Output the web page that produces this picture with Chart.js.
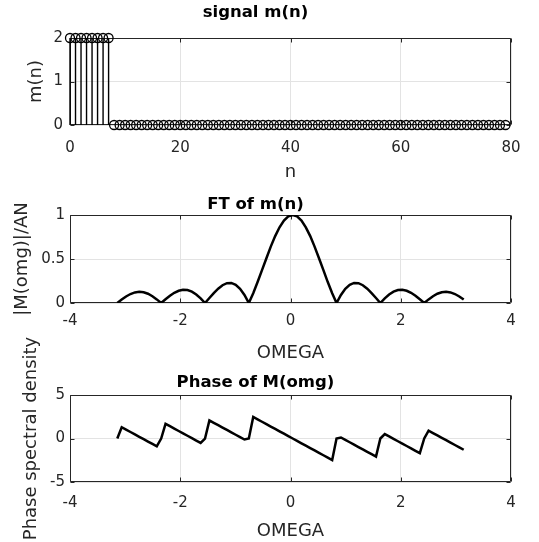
<!DOCTYPE html>
<html>
<head>
<meta charset="utf-8">
<script src="https://cdn.jsdelivr.net/npm/chart.js@4.4.1/dist/chart.umd.min.js"></script>
<style>
  body { margin: 0; background: #fff; }
  #wrap { position: relative; width: 539px; height: 542px; overflow: hidden; background: #fff; }
  canvas { position: absolute; left: 0; }
</style>
</head>
<body>
<div id="wrap">
  <canvas id="c1" width="539" height="190" style="top:0px"></canvas>
  <canvas id="c2" width="539" height="188" style="top:180px"></canvas>
  <canvas id="c3" width="539" height="217" style="top:325px"></canvas>
</div>
<script>
// signal m(n), n = 0..79
const nIdx = [0,1,2,3,4,5,6,7,8,9,10,11,12,13,14,15,16,17,18,19,
  20,21,22,23,24,25,26,27,28,29,30,31,32,33,34,35,36,37,38,39,
  40,41,42,43,44,45,46,47,48,49,50,51,52,53,54,55,56,57,58,59,
  60,61,62,63,64,65,66,67,68,69,70,71,72,73,74,75,76,77,78,79];
const mSig = [2,2,2,2,2,2,2,2,0,0,0,0,0,0,0,0,0,0,0,0,
  0,0,0,0,0,0,0,0,0,0,0,0,0,0,0,0,0,0,0,0,
  0,0,0,0,0,0,0,0,0,0,0,0,0,0,0,0,0,0,0,0,
  0,0,0,0,0,0,0,0,0,0,0,0,0,0,0,0,0,0,0,0];

// frequency axis
const omega = [-3.142,-3.062,-2.983,-2.903,-2.823,-2.744,-2.664,-2.585,-2.505,-2.426,
  -2.346,-2.267,-2.187,-2.108,-2.028,-1.949,-1.869,-1.789,-1.710,-1.630,
  -1.551,-1.471,-1.392,-1.312,-1.233,-1.153,-1.074,-0.994,-0.915,-0.835,
  -0.756,-0.676,-0.597,-0.517,-0.437,-0.358,-0.278,-0.199,-0.119,-0.040,
  0.040,0.119,0.199,0.278,0.358,0.437,0.517,0.597,0.676,0.756,
  0.835,0.915,0.994,1.074,1.153,1.233,1.312,1.392,1.471,1.551,
  1.630,1.710,1.789,1.869,1.949,2.028,2.108,2.187,2.267,2.346,
  2.426,2.505,2.585,2.664,2.744,2.823,2.903,2.983,3.062,3.142];

// |M(omg)|/AN
const magFT = [0,0.039,0.074,0.102,0.120,0.127,0.122,0.105,0.077,0.041,
  0,0.043,0.083,0.116,0.139,0.150,0.147,0.129,0.097,0.053,
  0,0.057,0.113,0.163,0.202,0.225,0.228,0.207,0.162,0.092,
  0,0.112,0.238,0.373,0.509,0.641,0.760,0.860,0.937,0.984,
  1,0.984,0.937,0.860,0.760,0.641,0.509,0.373,0.238,0.112,
  0,0.092,0.162,0.207,0.228,0.225,0.202,0.163,0.113,0.057,
  0,0.053,0.097,0.129,0.147,0.150,0.139,0.116,0.083,0.043,
  0,0.041,0.077,0.105,0.122,0.127,0.120,0.102,0.074,0.039];

// phase of M(omg)
const phaseFT = [0,1.296,1.021,0.746,0.471,0.196,-0.079,-0.353,-0.628,-0.903,
  0,1.689,1.414,1.139,0.864,0.589,0.314,0.039,-0.236,-0.511,
  0,2.081,1.806,1.532,1.257,0.982,0.707,0.432,0.157,-0.118,
  0,2.474,2.199,1.924,1.649,1.374,1.100,0.825,0.550,0.275,
  0,-0.275,-0.550,-0.825,-1.100,-1.374,-1.649,-1.924,-2.199,-2.474,
  0,0.118,-0.157,-0.432,-0.707,-0.982,-1.257,-1.532,-1.806,-2.081,
  0,0.511,0.236,-0.039,-0.314,-0.589,-0.864,-1.139,-1.414,-1.689,
  0,0.903,0.628,0.353,0.079,-0.196,-0.471,-0.746,-1.021,-1.296];

const xTicksN = [0, 20, 40, 60, 80];
const xTicksW = [-4, -2, 0, 2, 4];

const FONT = 'DejaVu Sans';
const AX = '#262626';
const GRID = '#e3e3e3';

// box around axes + inward tick marks (matlab look)
const boxPlugin = {
  id: 'box',
  beforeDatasetsDraw(chart) {
    const {ctx, chartArea: a, scales} = chart;
    const L = Math.round(a.left) + 0.5, R = Math.round(a.right) - 0.5;
    const T = Math.round(a.top) + 0.5, B = Math.round(a.bottom) - 0.5;
    ctx.save();
    ctx.strokeStyle = AX;
    ctx.lineWidth = 1;
    ctx.beginPath();
    scales.x.ticks.forEach(t => {
      const px = Math.round(scales.x.getPixelForValue(t.value)) + 0.5;
      ctx.moveTo(px, B); ctx.lineTo(px, B - 4);
      ctx.moveTo(px, T); ctx.lineTo(px, T + 4);
    });
    scales.y.ticks.forEach(t => {
      const py = Math.round(scales.y.getPixelForValue(t.value)) + 0.5;
      ctx.moveTo(L, py); ctx.lineTo(L + 4, py);
      ctx.moveTo(R, py); ctx.lineTo(R - 4, py);
    });
    ctx.rect(L, T, R - L, B - T);
    ctx.stroke();
    ctx.restore();
  }
};

// stems from baseline to each marker
const stemPlugin = {
  id: 'stems',
  beforeDatasetsDraw(chart) {
    const {ctx} = chart;
    const y0 = chart.scales.y.getPixelForValue(0);
    ctx.save();
    ctx.strokeStyle = '#000';
    ctx.lineWidth = 1.4;
    ctx.beginPath();
    chart.getDatasetMeta(0).data.forEach(pt => {
      ctx.moveTo(pt.x, y0);
      ctx.lineTo(pt.x, pt.y);
    });
    ctx.stroke();
    ctx.restore();
  }
};

function makeChart(id, o) {
  return new Chart(document.getElementById(id), {
    type: 'scatter',
    data: { datasets: [o.dataset] },
    options: {
      responsive: false,
      animation: false,
      layout: { padding: { left: 0, right: 28, top: 0, bottom: 0 } },
      plugins: {
        legend: { display: false },
        tooltip: { enabled: false },
        title: {
          display: true,
          text: o.title,
          color: '#000',
          font: { family: FONT, size: 16.5, weight: 'bold' },
          padding: o.titlePad
        }
      },
      scales: {
        x: {
          type: 'linear',
          min: o.xmin, max: o.xmax,
          afterBuildTicks: s => { s.ticks = o.xticks.map(v => ({ value: v })); },
          afterFit: s => { s.height = o.xh; s.paddingLeft = 0; s.paddingRight = 0; },
          grid: { color: GRID, drawTicks: false },
          border: { display: false },
          ticks: {
            color: AX, padding: o.xtickPad, maxRotation: 0,
            font: { family: FONT, size: 15 },
            callback: v => String(v)
          },
          title: {
            display: true, text: o.xlabel, color: AX,
            font: { family: FONT, size: 18 },
            padding: { top: 0, bottom: o.xlabPad }
          }
        },
        y: {
          type: 'linear',
          min: o.ymin, max: o.ymax,
          afterBuildTicks: s => { s.ticks = o.yticks.map(v => ({ value: v })); },
          afterFit: s => { s.width = 70; s.paddingTop = 0; s.paddingBottom = 0; },
          grid: { color: GRID, drawTicks: false },
          border: { display: false },
          ticks: {
            color: AX, padding: o.ytickPad,
            font: { family: FONT, size: 15 },
            callback: v => String(v)
          },
          title: {
            display: true, text: o.ylabel, color: AX,
            font: { family: FONT, size: 18 },
            padding: { top: o.ylabPad, bottom: 0 }
          }
        }
      }
    },
    plugins: o.plugins
  });
}

makeChart('c1', {
  title: 'signal m(n)',
  titlePad: { top: 3, bottom: 15.2 },
  dataset: {
    data: nIdx.map((n, i) => ({ x: n, y: mSig[i] })),
    showLine: false,
    pointStyle: 'circle',
    pointRadius: 4.5,
    pointBorderWidth: 1.3,
    pointBorderColor: '#000',
    pointBackgroundColor: 'rgba(0,0,0,0)',
    clip: false
  },
  xmin: 0, xmax: 80, xticks: xTicksN, xh: 65, xtickPad: 14, xlabel: 'n', xlabPad: 7,
  ymin: 0, ymax: 2, yticks: [0, 1, 2], ytickPad: 7, ylabel: 'm(n)', ylabPad: 26,
  plugins: [boxPlugin, stemPlugin]
});

makeChart('c2', {
  title: 'FT of m(n)',
  titlePad: { top: 15.1, bottom: 0.1 },
  dataset: {
    data: omega.map((w, i) => ({ x: w, y: magFT[i] })),
    showLine: true,
    borderColor: '#000',
    borderWidth: 2.5,
    pointRadius: 0
  },
  xmin: -4, xmax: 4, xticks: xTicksW, xh: 65, xtickPad: 9, xlabel: 'OMEGA', xlabPad: 4,
  ymin: 0, ymax: 1, yticks: [0, 0.5, 1], ytickPad: 5, ylabel: '|M(omg)|/AN', ylabPad: 12,
  plugins: [boxPlugin]
});

makeChart('c3', {
  title: 'Phase of M(omg)',
  titlePad: { top: 47.6, bottom: 2.6 },
  dataset: {
    data: omega.map((w, i) => ({ x: w, y: phaseFT[i] })),
    showLine: true,
    borderColor: '#000',
    borderWidth: 2.5,
    pointRadius: 0
  },
  xmin: -4, xmax: 4, xticks: xTicksW, xh: 60, xtickPad: 11.7, xlabel: 'OMEGA', xlabPad: 0,
  ymin: -5, ymax: 5, yticks: [-5, 0, 5], ytickPad: 5, ylabel: 'Phase spectral density', ylabPad: 21,
  plugins: [boxPlugin]
});
</script>
</body>
</html>
